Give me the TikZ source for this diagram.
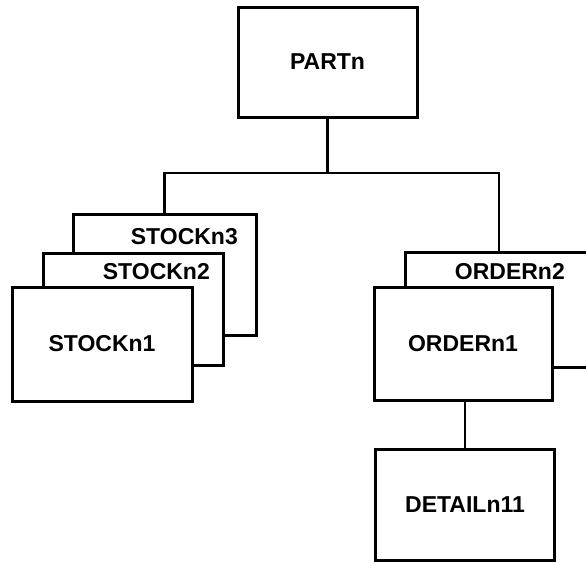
\documentclass[tikz,border=0pt]{standalone}
\usepackage{fontspec}
\setmainfont{Liberation Sans}
\usetikzlibrary{calc}

\begin{document}
\begin{tikzpicture}[x=1pt,y=-1pt,
  box/.style={draw,line width=3pt,fill=white,inner sep=0pt},
  link/.style={line width=2.5pt},
  tag/.style={font=\fontsize{23}{28}\selectfont\bfseries,inner sep=0pt}]
\useasboundingbox (0,0) rectangle (586,562);
% the root
\node[box,tag,minimum width=179pt,minimum height=110pt] (part) at (327.5,62) {PARTn};
% the stock stack, back to front
\node[box,minimum width=183pt,minimum height=121pt] (stock3) at (164.5,274.5) {};
\node[tag,anchor=east] (stock3t) at (238,237) {STOCKn3};
\node[box,minimum width=180pt,minimum height=112pt] (stock2) at (133,309) {};
\node[tag,anchor=east] (stock2t) at (210,272) {STOCKn2};
\node[box,tag,minimum width=180pt,minimum height=114pt] (stock1) at (102,344) {STOCKn1};
% the order stack
\node[box,minimum width=188pt,minimum height=115pt] (order2) at (499,309.5) {};
\node[tag,anchor=east] (order2t) at (565,272) {ORDERn2};
\node[box,tag,minimum width=178pt,minimum height=113pt] (order1) at (463,343.5) {ORDERn1};
\node[box,tag,minimum width=179pt,minimum height=111pt] (detail) at (465,504.5) {DETAILn11};
% the lines
\coordinate (bus) at (327.5,173);
\draw[link] (part.south) -- (bus);
\draw[link] (stock3.north) |- (bus) -| (order2.north);
\draw[link] (order1.south -| detail.north) -- (detail.north);
\end{tikzpicture}
\end{document}
